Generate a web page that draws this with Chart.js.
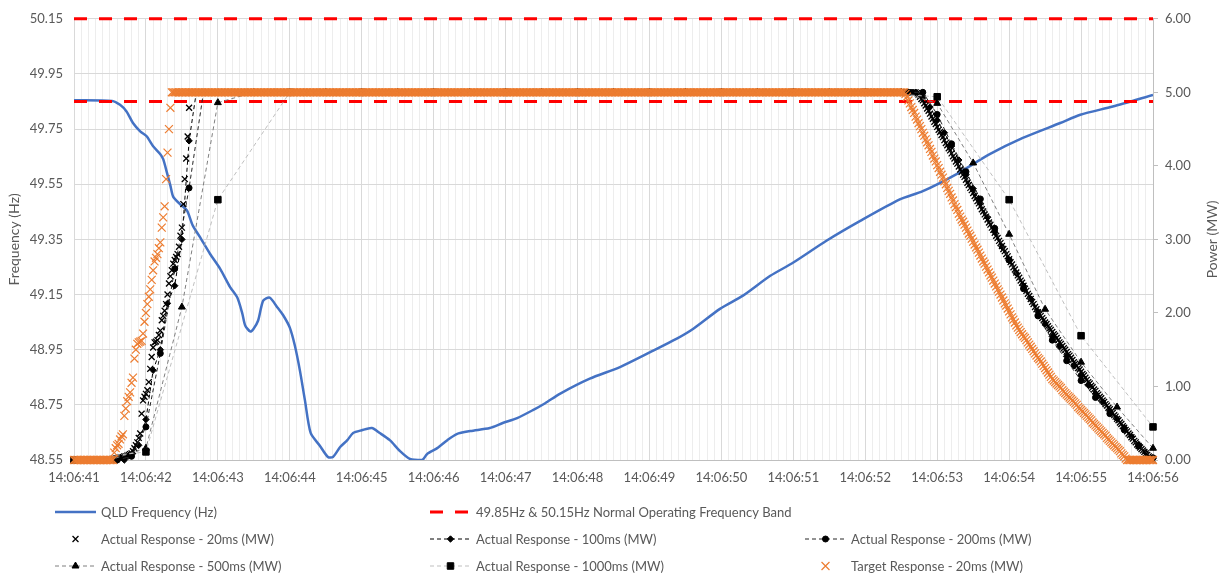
<!DOCTYPE html>
<html>
<head>
<meta charset="utf-8">
<title>QLD frequency event and power response</title>
<script src="https://cdn.jsdelivr.net/npm/chart.js@4.4.1/dist/chart.umd.min.js"></script>
<style>
  html, body { margin: 0; padding: 0; background: #ffffff; }
  #wrap { width: 1225px; height: 576px; }
</style>
</head>
<body>
<div id="wrap"><canvas id="chart" width="1225" height="576"></canvas></div>
<script>
// ---- Time base -------------------------------------------------------------
const startClock = '14:06:41';
const windowSeconds = 15;

// ---- QLD frequency trace: seconds after start, Hz ---------------------------
const freqTimes = [0, 0.53, 0.64, 0.73, 0.82, 0.92, 1.01, 1.10, 1.20, 1.24,
  1.29, 1.34, 1.38, 1.47, 1.57, 1.65, 1.75, 1.89, 2.03, 2.17,
  2.27, 2.34, 2.38, 2.45, 2.49, 2.56, 2.63, 2.72, 2.82, 2.91,
  3.00, 3.07, 3.14, 3.21, 3.29, 3.42, 3.53, 3.60, 3.70, 3.80,
  3.88, 4.00, 4.14, 4.25, 4.39, 4.53, 4.67, 4.84, 4.91, 5.05,
  5.19, 5.32, 5.51, 5.78, 5.96, 6.16, 6.38, 6.55, 6.76, 7.17,
  7.59, 8.01, 8.38, 8.61, 8.98, 9.30, 9.68, 10.00, 10.46, 10.93,
  11.48, 11.80, 12.27, 12.73, 13.19, 13.71, 13.99, 14.44, 15.00];
const freqHz = [49.855, 49.852, 49.838, 49.814, 49.772, 49.742, 49.724, 49.688, 49.659, 49.641,
  49.594, 49.545, 49.504, 49.479, 49.455, 49.401, 49.359, 49.298, 49.244, 49.177,
  49.139, 49.081, 49.038, 49.016, 49.023, 49.056, 49.128, 49.139, 49.106, 49.074,
  49.030, 48.965, 48.875, 48.767, 48.648, 48.601, 48.561, 48.561, 48.597, 48.622,
  48.648, 48.658, 48.666, 48.648, 48.622, 48.583, 48.554, 48.550, 48.572, 48.593,
  48.622, 48.644, 48.655, 48.666, 48.684, 48.702, 48.731, 48.756, 48.791, 48.845,
  48.887, 48.941, 48.990, 49.026, 49.098, 49.146, 49.218, 49.266, 49.345, 49.417,
  49.495, 49.525, 49.587, 49.659, 49.718, 49.772, 49.802, 49.832, 49.874];

// ---- Normal operating frequency band (Hz) ----------------------------------
const bandLimitsHz = [49.85, 50.15];

// ---- Power responses (MW), one value per sample interval from start ---------
const interval20ms = 0.02;
const interval100ms = 0.1;
const interval200ms = 0.2;
const interval500ms = 0.5;
const interval1000ms = 1.0;

const actual20ms = [
  0,0,0,0,0, 0,0,0,0,0, 0,0,0,0,0, 0,0,0,0,0, 0,0,0,0,0, 0,0,0,
  0.01,0.02,0.02,0.03,0.03, 0.04,0.04,0.05,0.05,0.06,
  0.07,0.08,0.09,0.12,0.16, 0.20,0.24,0.30,0.36,0.63,
  0.81,0.86,0.90,0.95,1.06, 1.24,1.40,1.53,1.60,1.61,
  1.63,1.70,1.76,1.90,1.96, 2.03,2.12,2.25,2.40,2.50,
  2.58,2.67,2.72,2.76,2.80, 2.90,3.05,3.16,3.48,3.82,
  4.10,4.40,4.79,
  5,5,5,5,5, 5,5,5,5,5, 5,5,5,5,5, 5,5,5,5,5, 5,5,5,5,5, 5,5,5,5,5, 5,5,5,5,5, 5,5,5,5,5, 5,5,5,5,5, 5,5,5,5,5,
  5,5,5,5,5, 5,5,5,5,5, 5,5,5,5,5, 5,5,5,5,5, 5,5,5,5,5, 5,5,5,5,5, 5,5,5,5,5, 5,5,5,5,5, 5,5,5,5,5, 5,5,5,5,5,
  5,5,5,5,5, 5,5,5,5,5, 5,5,5,5,5, 5,5,5,5,5, 5,5,5,5,5, 5,5,5,5,5, 5,5,5,5,5, 5,5,5,5,5, 5,5,5,5,5, 5,5,5,5,5,
  5,5,5,5,5, 5,5,5,5,5, 5,5,5,5,5, 5,5,5,5,5, 5,5,5,5,5, 5,5,5,5,5, 5,5,5,5,5, 5,5,5,5,5, 5,5,5,5,5, 5,5,5,5,5,
  5,5,5,5,5, 5,5,5,5,5, 5,5,5,5,5, 5,5,5,5,5, 5,5,5,5,5, 5,5,5,5,5, 5,5,5,5,5, 5,5,5,5,5, 5,5,5,5,5, 5,5,5,5,5,
  5,5,5,5,5, 5,5,5,5,5, 5,5,5,5,5, 5,5,5,5,5, 5,5,5,5,5, 5,5,5,5,5, 5,5,5,5,5, 5,5,5,5,5, 5,5,5,5,5, 5,5,5,5,5,
  5,5,5,5,5, 5,5,5,5,5, 5,5,5,5,5, 5,5,5,5,5, 5,5,5,5,5, 5,5,5,5,5, 5,5,5,5,5, 5,5,5,5,5, 5,5,5,5,5, 5,5,5,5,5,
  5,5,5,5,5, 5,5,5,5,5, 5,5,5,5,5, 5,5,5,5,5, 5,5,5,5,5, 5,5,5,5,5, 5,5,5,5,5, 5,5,5,5,5, 5,5,5,5,5, 5,5,5,5,5,
  5,5,5,5,5, 5,5,5,5,5, 5,5,5,5,5, 5,5,5,5,5, 5,5,5,5,5, 5,5,5,5,5, 5,5,5,5,5, 5,5,5,5,5, 5,5,5,5,5, 5,5,5,5,5,
  5,5,5,5,5, 5,5,5,5,5, 5,5,5,5,5, 5,5,5,5,5, 5,5,5,5,5, 5,5,5,5,5, 5,5,5,5,5, 5,5,5,5,5, 5,5,5,5,5, 5,5,5,5,5,
  5,5,5,5,
  5.00,4.99,4.97,4.94,4.91,4.89,
  4.85,4.82,4.78,4.75,4.71, 4.67,4.64,4.60,4.57,4.53, 4.49,4.46,4.42,4.39,4.35, 4.31,4.28,4.24,4.21,4.17,
  4.13,4.10,4.06,4.03,3.99, 3.95,3.92,3.88,3.85,3.81, 3.77,3.74,3.70,3.67,3.63, 3.59,3.56,3.52,3.49,3.45,
  3.41,3.38,3.34,3.31,3.27, 3.23,3.20,3.16,3.13,3.09, 3.05,3.02,2.98,2.95,2.91, 2.87,2.84,2.80,2.77,2.73,
  2.69,2.66,2.62,2.59,2.55, 2.51,2.48,2.44,2.41,2.37, 2.33,2.30,2.26,2.23,2.19, 2.15,2.12,2.08,2.05,2.01,
  1.98,1.96,1.93,1.90,1.87, 1.85,1.82,1.79,1.77,1.74, 1.71,1.69,1.66,1.63,1.60, 1.58,1.55,1.52,1.50,1.47,
  1.44,1.42,1.39,1.36,1.33, 1.31,1.28,1.25,1.23,1.20, 1.17,1.15,1.12,1.09,1.06,
  1.04,1.01,0.99,0.96,0.94, 0.91,0.89,0.86,0.84,0.81, 0.79,0.76,0.74,0.71,0.69, 0.66,0.64,0.61,0.59,0.56,
  0.54,0.51,0.49,0.46,0.44, 0.41,0.39,0.36,0.34,0.31, 0.29,0.26,0.24,0.21,0.19,
  0.17,0.15,0.13,0.11,0.09, 0.07,0.05,0.03,0.01,0
];

const target20ms = [
  0,0,0,0,0, 0,0,0,0,0, 0,0,0,0,0, 0,0,0,0,0, 0,0,0,0,0, 0,0,0,
  0.10,0.16,0.20,0.22,0.28, 0.32,0.35,0.60,0.70,0.80,
  0.86,0.92,1.05,1.12,1.38, 1.50,1.58,1.60,1.61,1.62,
  1.72,1.88,2.00,2.12,2.22, 2.32,2.45,2.58,2.70,2.75,
  2.80,2.88,2.96,3.16,3.30, 3.45,3.82,4.18,4.50,4.79,
  5.00,
  5,5,5,5,5, 5,5,5,5,5, 5,5,5,5,5, 5,5,5,5,5, 5,5,5,5,5, 5,5,5,5,5, 5,5,5,5,5, 5,5,5,5,5, 5,5,5,5,5, 5,5,5,5,5,
  5,5,5,5,5, 5,5,5,5,5, 5,5,5,5,5, 5,5,5,5,5, 5,5,5,5,5, 5,5,5,5,5, 5,5,5,5,5, 5,5,5,5,5, 5,5,5,5,5, 5,5,5,5,5,
  5,5,5,5,5, 5,5,5,5,5, 5,5,5,5,5, 5,5,5,5,5, 5,5,5,5,5, 5,5,5,5,5, 5,5,5,5,5, 5,5,5,5,5, 5,5,5,5,5, 5,5,5,5,5,
  5,5,5,5,5, 5,5,5,5,5, 5,5,5,5,5, 5,5,5,5,5, 5,5,5,5,5, 5,5,5,5,5, 5,5,5,5,5, 5,5,5,5,5, 5,5,5,5,5, 5,5,5,5,5,
  5,5,5,5,5, 5,5,5,5,5, 5,5,5,5,5, 5,5,5,5,5, 5,5,5,5,5, 5,5,5,5,5, 5,5,5,5,5, 5,5,5,5,5, 5,5,5,5,5, 5,5,5,5,5,
  5,5,5,5,5, 5,5,5,5,5, 5,5,5,5,5, 5,5,5,5,5, 5,5,5,5,5, 5,5,5,5,5, 5,5,5,5,5, 5,5,5,5,5, 5,5,5,5,5, 5,5,5,5,5,
  5,5,5,5,5, 5,5,5,5,5, 5,5,5,5,5, 5,5,5,5,5, 5,5,5,5,5, 5,5,5,5,5, 5,5,5,5,5, 5,5,5,5,5, 5,5,5,5,5, 5,5,5,5,5,
  5,5,5,5,5, 5,5,5,5,5, 5,5,5,5,5, 5,5,5,5,5, 5,5,5,5,5, 5,5,5,5,5, 5,5,5,5,5, 5,5,5,5,5, 5,5,5,5,5, 5,5,5,5,5,
  5,5,5,5,5, 5,5,5,5,5, 5,5,5,5,5, 5,5,5,5,5, 5,5,5,5,5, 5,5,5,5,5, 5,5,5,5,5, 5,5,5,5,5, 5,5,5,5,5, 5,5,5,5,5,
  5,5,5,5,5, 5,5,5,5,5, 5,5,5,5,5, 5,5,5,5,5, 5,5,5,5,5, 5,5,5,5,5, 5,5,5,5,5, 5,5,5,5,5, 5,5,5,5,5, 5,5,5,5,5,
  5,5,5,5,5, 5,5,5,5,
  4.98,4.94,4.89,4.85,4.80, 4.76,4.72,4.67,4.63,4.58, 4.54,4.50,4.45,4.41,4.36, 4.32,4.28,4.23,4.19,4.14,
  4.10,4.06,4.01,3.97,3.92, 3.88,3.84,3.79,3.75,3.70, 3.66,3.62,3.57,3.53,3.48, 3.44,3.40,3.35,
  3.31,3.27,3.24,3.20,3.16, 3.12,3.08,3.05,3.01,2.97, 2.93,2.89,2.86,2.82,2.78, 2.74,2.70,2.67,2.63,2.59,
  2.55,2.51,2.48,2.44,2.40, 2.36,2.32,2.29,2.25,2.21, 2.17,2.13,2.10,2.06,2.02, 1.98,1.94,1.91,1.87,1.83,
  1.80,1.77,1.74,1.71,1.68, 1.66,1.63,1.60,1.57,1.54, 1.51,1.48,1.45,1.42,1.39, 1.37,1.34,1.31,1.28,1.25,
  1.22,1.19,1.16,1.13,1.10,
  1.08,1.06,1.04,1.02,1.00, 0.98,0.95,0.93,0.91,0.89, 0.87,0.85,0.83,0.81,0.79, 0.77,0.75,0.72,0.70,0.68,
  0.66,0.64,0.62,0.60,0.58, 0.56,0.54,0.51,0.49,0.47, 0.45,0.43,0.41,0.39,0.37, 0.35,0.33,0.30,0.28,0.26,
  0.24,0.22,0.20,0.18,0.16,
  0.14,0.12,0.09,0.07,0.05, 0.02,0,
  0,0,0,0,0, 0,0,0,0,0, 0,0,0,0,0, 0,0,0
];

const actual100ms = [
  0,0,0,0,0, 0,0,0,
  0.08,0.20,0.55,1.22,1.50, 2.13,2.37,3.00,4.34,
  5,5,5,5,5, 5,5,5,5,5, 5,5,5,5,5, 5,5,5,5,5, 5,5,5,5,5, 5,5,5,5,5, 5,5,5,5,5, 5,5,5,5,5, 5,5,5,5,5, 5,5,5,5,5,
  5,5,5,5,5, 5,5,5,5,5, 5,5,5,5,5, 5,5,5,5,5, 5,5,5,5,5, 5,5,5,5,5, 5,5,5,5,5, 5,5,5,5,5, 5,5,5,5,5, 5,5,5,5,5,
  5,
  4.95,
  4.80,4.62,4.45,4.27,4.08, 3.88,3.69,3.49,3.30,3.10, 2.90,2.71,2.54,2.37,2.19,
  2.02,1.85,1.68,1.54,1.41, 1.28,1.14,1.02,0.90,0.79, 0.67,0.56,0.44,0.32,0.21,
  0.10,0.02
];

const actual200ms = [
  0,0,0,0,
  0.05,0.45,1.45,2.60,3.70,
  5,5,5,5,5, 5,5,5,5,5, 5,5,5,5,5, 5,5,5,5,5, 5,5,5,5,5, 5,5,5,5,5, 5,5,5,5,5, 5,5,5,5,5, 5,5,5,5,5, 5,5,5,5,5,
  5,
  4.70,4.30,3.92,3.55,3.15, 2.72,2.33,1.96,1.63,1.35, 1.08,0.85,0.63,0.41,0.19,
  0.03
];

const actual500ms = [0, 0, 0.16, 2.08, 4.86,
  5,5,5,5,5, 5,5,5,5,5, 5,5,5,5,5, 5,5,5,5,
  4.85, 4.04, 3.07, 2.05, 1.33, 0.72, 0.16];

const actual1000ms = [0, 0.11, 3.54, 5, 5, 5, 5, 5, 5, 5, 5, 5, 4.94, 3.54, 1.69, 0.45];

// ---- Labels -----------------------------------------------------------------
const seriesLabels = {
  freq: 'QLD Frequency (Hz)',
  band: '49.85Hz & 50.15Hz Normal Operating Frequency Band',
  a20: 'Actual Response - 20ms (MW)',
  a100: 'Actual Response - 100ms (MW)',
  a200: 'Actual Response - 200ms (MW)',
  a500: 'Actual Response - 500ms (MW)',
  a1000: 'Actual Response - 1000ms (MW)',
  t20: 'Target Response - 20ms (MW)'
};
const axisTitles = { freq: 'Frequency (Hz)', power: 'Power (MW)' };
const freqAxisRange = { min: 48.55, max: 50.15, step: 0.2 };
const powerAxisRange = { min: 0, max: 6, step: 1 };

// ---- Helpers ------------------------------------------------------------------
const TEXT = '#595959';
const FONT = 'Lato, "Open Sans", sans-serif';

function sampled(values, step) {
  return values.map((y, i) => ({ x: Math.round(i * step * 1000) / 1000, y }));
}
function paired(xs, ys) {
  return xs.map((x, i) => ({ x, y: ys[i] }));
}
function isWholeSecond(v) {
  return Math.abs(v - Math.round(v)) < 1e-6;
}
function clockLabel(sec) {
  const [h, m, s] = startClock.split(':').map(Number);
  const total = h * 3600 + m * 60 + s + Math.round(sec);
  const pad = n => String(n).padStart(2, '0');
  return pad(Math.floor(total / 3600) % 24) + ':' + pad(Math.floor(total / 60) % 60) + ':' + pad(total % 60);
}

// ---- Datasets -------------------------------------------------------------------
const datasets = [
  {
    label: seriesLabels.freq, data: paired(freqTimes, freqHz), yAxisID: 'y',
    borderColor: '#4472C4', borderWidth: 2.5, pointRadius: 0, tension: 0.25, order: 8
  },
  ...bandLimitsHz.map(v => ({
    label: seriesLabels.band, data: [{ x: 0, y: v }, { x: windowSeconds, y: v }], yAxisID: 'y',
    borderColor: '#FF0000', borderWidth: 3, borderDash: [13, 12], pointRadius: 0, order: 7, clip: false
  })),
  {
    label: seriesLabels.a20, data: sampled(actual20ms, interval20ms), yAxisID: 'y2', showLine: false,
    pointStyle: 'crossRot', pointRadius: 4.2, pointBorderWidth: 1.3, pointBorderColor: '#000000',
    pointBackgroundColor: '#000000', order: 5, clip: false
  },
  {
    label: seriesLabels.a100, data: sampled(actual100ms, interval100ms), yAxisID: 'y2',
    borderColor: '#000000', borderWidth: 1, borderDash: [4, 3],
    pointStyle: 'rectRot', pointRadius: 3.2, pointBorderWidth: 1, pointBorderColor: '#000000',
    pointBackgroundColor: '#000000', order: 4, clip: false
  },
  {
    label: seriesLabels.a200, data: sampled(actual200ms, interval200ms), yAxisID: 'y2',
    borderColor: '#262626', borderWidth: 1, borderDash: [4, 3],
    pointStyle: 'circle', pointRadius: 3, pointBorderWidth: 1, pointBorderColor: '#000000',
    pointBackgroundColor: '#000000', order: 3, clip: false
  },
  {
    label: seriesLabels.a500, data: sampled(actual500ms, interval500ms), yAxisID: 'y2',
    borderColor: '#7F7F7F', borderWidth: 1, borderDash: [4, 3],
    pointStyle: 'triangle', pointRadius: 4, pointBorderWidth: 1, pointBorderColor: '#000000',
    pointBackgroundColor: '#000000', order: 2, clip: false
  },
  {
    label: seriesLabels.a1000, data: sampled(actual1000ms, interval1000ms), yAxisID: 'y2',
    borderColor: '#BFBFBF', borderWidth: 1, borderDash: [4, 3],
    pointStyle: 'rect', pointRadius: 4.6, pointBorderWidth: 1, pointBorderColor: '#000000',
    pointBackgroundColor: '#000000', order: 1, clip: false
  },
  {
    label: seriesLabels.t20, data: sampled(target20ms, interval20ms), yAxisID: 'y2', showLine: false,
    pointStyle: 'crossRot', pointRadius: 5.6, pointBorderWidth: 1.2, pointBorderColor: '#ED7D31',
    pointBackgroundColor: '#ED7D31', order: 0, clip: false
  }
];

// ---- Legend grid (three columns, three rows) and axis titles ---------------------
const legendColumns = [
  { from: 55, to: 96, text: 101 },
  { from: 430, to: 471, text: 476 },
  { from: 805, to: 846, text: 851 }
];
const legendRows = [512, 539, 566];
const legendCells = [
  { ds: 0, col: 0, row: 0 }, { ds: 1, col: 1, row: 0 },
  { ds: 3, col: 0, row: 1 }, { ds: 4, col: 1, row: 1 }, { ds: 5, col: 2, row: 1 },
  { ds: 6, col: 0, row: 2 }, { ds: 7, col: 1, row: 2 }, { ds: 8, col: 2, row: 2 }
];

function drawMarker(ctx, ds, x, y) {
  ctx.setLineDash([]);
  ctx.lineWidth = ds.pointBorderWidth;
  ctx.strokeStyle = ds.pointBorderColor;
  ctx.fillStyle = ds.pointBackgroundColor;
  const opts = { pointStyle: ds.pointStyle, radius: ds.pointRadius, borderWidth: ds.pointBorderWidth, rotation: 0 };
  if (Chart.helpers && Chart.helpers.drawPoint) {
    Chart.helpers.drawPoint(ctx, opts, x, y);
    return;
  }
  const r = ds.pointRadius;
  ctx.beginPath();
  if (ds.pointStyle === 'crossRot') {
    const d = r * Math.SQRT1_2;
    ctx.moveTo(x - d, y - d); ctx.lineTo(x + d, y + d);
    ctx.moveTo(x + d, y - d); ctx.lineTo(x - d, y + d);
    ctx.stroke();
    return;
  }
  if (ds.pointStyle === 'rectRot') { ctx.moveTo(x, y - r); ctx.lineTo(x + r, y); ctx.lineTo(x, y + r); ctx.lineTo(x - r, y); ctx.closePath(); }
  else if (ds.pointStyle === 'triangle') { ctx.moveTo(x, y - r); ctx.lineTo(x + r * 0.866, y + r * 0.5); ctx.lineTo(x - r * 0.866, y + r * 0.5); ctx.closePath(); }
  else if (ds.pointStyle === 'rect') { const s = r * Math.SQRT1_2; ctx.rect(x - s, y - s, 2 * s, 2 * s); }
  else { ctx.arc(x, y, r, 0, Math.PI * 2); }
  ctx.fill(); ctx.stroke();
}

const legendAndTitles = {
  id: 'legendAndTitles',
  afterDraw(chart) {
    const ctx = chart.ctx;
    const area = chart.chartArea;
    ctx.save();
    ctx.font = '13px ' + FONT;
    ctx.fillStyle = TEXT;
    ctx.textBaseline = 'middle';
    legendCells.forEach(cell => {
      const ds = chart.data.datasets[cell.ds];
      const col = legendColumns[cell.col];
      const y = legendRows[cell.row];
      if (ds.showLine !== false) {
        ctx.save();
        ctx.strokeStyle = ds.borderColor;
        ctx.lineWidth = ds.borderWidth;
        ctx.setLineDash(ds.borderDash || []);
        ctx.beginPath();
        ctx.moveTo(col.from, y);
        ctx.lineTo(col.to, y);
        ctx.stroke();
        ctx.restore();
      }
      if (ds.pointRadius > 0) {
        ctx.save();
        drawMarker(ctx, ds, (col.from + col.to) / 2, y);
        ctx.restore();
      }
      ctx.fillStyle = TEXT;
      ctx.textAlign = 'left';
      ctx.fillText(ds.label, col.text, y + 0.5);
    });

    // rotated axis titles, both reading bottom to top
    const midY = (area.top + area.bottom) / 2;
    ctx.font = '14px ' + FONT;
    ctx.textAlign = 'center';
    [[14, axisTitles.freq], [1212, axisTitles.power]].forEach(([x, text]) => {
      ctx.save();
      ctx.translate(x, midY);
      ctx.rotate(-Math.PI / 2);
      ctx.fillText(text, 0, 0);
      ctx.restore();
    });
    ctx.restore();
  }
};

// ---- Chart ------------------------------------------------------------------------
Chart.defaults.font.family = FONT;
Chart.defaults.font.size = 13;
Chart.defaults.color = TEXT;

new Chart(document.getElementById('chart'), {
  type: 'line',
  data: { datasets },
  options: {
    responsive: false,
    animation: false,
    devicePixelRatio: 1,
    events: [],
    layout: { padding: { top: 17, bottom: 86, left: 0, right: 0 } },
    plugins: { legend: { display: false }, tooltip: { enabled: false } },
    scales: {
      x: {
        type: 'linear', min: 0, max: windowSeconds,
        afterFit: s => { s.height = 30; },
        border: { display: true, color: '#BFBFBF', width: 1 },
        grid: {
          drawTicks: false,
          color: c => (c.tick && isWholeSecond(c.tick.value)) ? '#D9D9D9' : '#EDEDED'
        },
        ticks: {
          stepSize: 0.1, autoSkip: false, maxRotation: 0, minRotation: 0, padding: 10,
          color: TEXT, font: { size: 13 },
          callback: v => isWholeSecond(v) ? clockLabel(v) : ''
        }
      },
      y: {
        type: 'linear', position: 'left',
        min: freqAxisRange.min, max: freqAxisRange.max,
        afterFit: s => { s.width = 74; },
        border: { display: false },
        grid: { drawTicks: false, color: '#D9D9D9' },
        ticks: { stepSize: freqAxisRange.step, padding: 11, color: TEXT, font: { size: 13 }, callback: v => v.toFixed(2) }
      },
      y2: {
        type: 'linear', position: 'right',
        min: powerAxisRange.min, max: powerAxisRange.max,
        afterFit: s => { s.width = 72; },
        border: { display: true, color: '#BFBFBF', width: 1 },
        grid: { drawOnChartArea: false, drawTicks: true, tickLength: 5, tickColor: '#BFBFBF' },
        ticks: { stepSize: powerAxisRange.step, padding: 7, color: TEXT, font: { size: 13 }, callback: v => v.toFixed(2) }
      }
    }
  },
  plugins: [legendAndTitles]
});
</script>
</body>
</html>
